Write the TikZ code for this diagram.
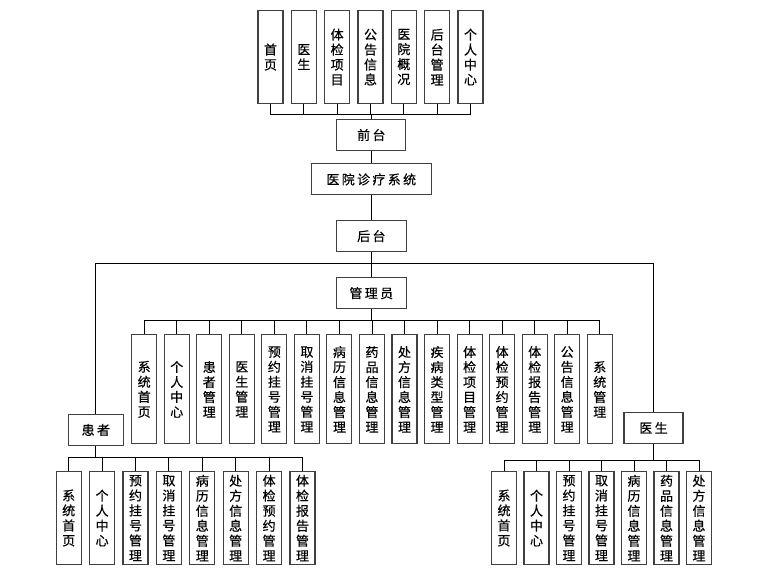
\documentclass[tikz,border=0pt]{standalone}
\usepackage{fontspec}
\newfontfamily\cjk[FakeBold=0.4]{Noto Sans CJK SC}
\newfontfamily\cjkh[LetterSpace=18,FakeBold=0.4]{Noto Sans CJK SC}
\XeTeXlinebreaklocale "zh"
\XeTeXlinebreakskip=0pt plus 1pt

\tikzset{
  hbox/.style={draw=black!75, line width=1.1pt, minimum height=31pt, inner sep=0pt,
    font=\fontsize{13}{15}\selectfont\cjkh},
  vbox/.style={draw=black!75, line width=1.1pt, minimum width=25pt, text width=14pt,
    inner sep=0pt, align=center, anchor=north, font=\fontsize{13}{15}\selectfont\cjk},
  link/.style={line width=0.9pt}
}

\begin{document}
\begin{tikzpicture}[x=1pt,y=-1pt]
            \useasboundingbox (0,0) rectangle (784,577);

            % front end
            \foreach \lbl [count=\i from 0] in {首页,医生,体检项目,公告信息,医院概况,后台管理,个人中心}{
              \node[vbox, minimum height=93pt] (t\i) at ({270.5+33.33*\i},10) {\lbl};
            }
            \node[hbox, minimum width=69pt] (front) at (371.3,135) {前台};
            \node[hbox, minimum width=120pt] (sys) at (371.3,179.4) {医院诊疗系统};
            \node[hbox, minimum width=70pt] (back) at (371.3,236.2) {后台};
            \node[hbox, minimum width=70pt] (admin) at (371.3,293.2) {管理员};
            \node[hbox, minimum width=55pt] (patient) at (95.8,430) {患者};
            \node[hbox, minimum width=59pt] (doctor) at (653.5,427.8) {医生};

            \foreach \i in {0,...,6}{
              \draw[link] (t\i.south) -- ++(0,10) -| (front.north);
            }
            \draw[link] (front) -- (sys);
            \draw[link] (sys) -- (back);
            \draw[link] (back) -- (admin);
            \draw[link] (back.south) -- ++(0,11.3) -| (patient.north);
            \draw[link] (back.south) -- ++(0,11.3) -| (doctor.north);

            % administrator
            \foreach \lbl [count=\i from 0] in {系统首页,个人中心,患者管理,医生管理,预约挂号管理,取消挂号管理,
                病历信息管理,药品信息管理,处方信息管理,疾病类型管理,体检项目管理,体检预约管理,
                体检报告管理,公告信息管理,系统管理}{
              \node[vbox, minimum height=109pt] (a\i) at ({144.2+32.54*\i},334.3) {\lbl};
              \draw[link] (admin.south) -- ++(0,11.3) -| (a\i.north);
            }

            % patient
            \foreach \lbl [count=\i from 0] in {系统首页,个人中心,预约挂号管理,取消挂号管理,病历信息管理,
                处方信息管理,体检预约管理,体检报告管理}{
              \node[vbox, minimum height=93pt] (p\i) at ({68.7+33.4*\i},471) {\lbl};
              \draw[link] (patient.south) -- ++(0,11.6) -| (p\i.north);
            }

            % doctor
            \foreach \lbl [count=\i from 0] in {系统首页,个人中心,预约挂号管理,取消挂号管理,病历信息管理,
                药品信息管理,处方信息管理}{
              \node[vbox, minimum height=93pt] (d\i) at ({504+32.5*\i},471) {\lbl};
              \draw[link] (doctor.south) -- ++(0,16.7) -| (d\i.north);
            }
\end{tikzpicture}
\end{document}
